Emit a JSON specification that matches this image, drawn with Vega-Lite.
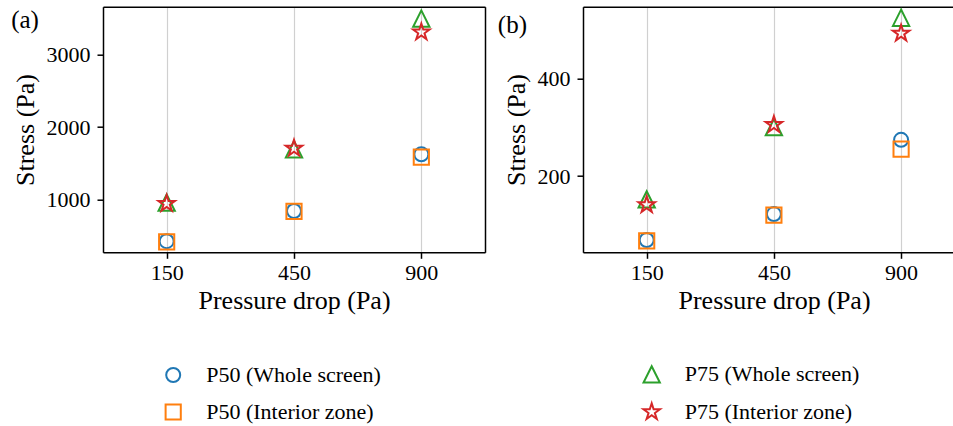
{
  "$schema": "https://vega.github.io/schema/vega-lite/v6.json",
  "autosize": {"type": "none"},
  "padding": {"left": 103, "top": 6.7, "right": 0, "bottom": 173.7},
  "width": 850,
  "height": 245.6,
  "background": "white",
  "data": {"values": [
    {"panel": "a", "dp": "150", "series": "P50 (Whole screen)", "stress": 420},
    {"panel": "a", "dp": "150", "series": "P50 (Interior zone)", "stress": 410},
    {"panel": "a", "dp": "150", "series": "P75 (Whole screen)", "stress": 955},
    {"panel": "a", "dp": "150", "series": "P75 (Interior zone)", "stress": 940},
    {"panel": "a", "dp": "450", "series": "P50 (Whole screen)", "stress": 838},
    {"panel": "a", "dp": "450", "series": "P50 (Interior zone)", "stress": 833},
    {"panel": "a", "dp": "450", "series": "P75 (Whole screen)", "stress": 1694},
    {"panel": "a", "dp": "450", "series": "P75 (Interior zone)", "stress": 1705},
    {"panel": "a", "dp": "900", "series": "P50 (Whole screen)", "stress": 1625},
    {"panel": "a", "dp": "900", "series": "P50 (Interior zone)", "stress": 1585},
    {"panel": "a", "dp": "900", "series": "P75 (Whole screen)", "stress": 3505},
    {"panel": "a", "dp": "900", "series": "P75 (Interior zone)", "stress": 3315},
    {"panel": "b", "dp": "150", "series": "P50 (Whole screen)", "stress": 69},
    {"panel": "b", "dp": "150", "series": "P50 (Interior zone)", "stress": 67},
    {"panel": "b", "dp": "150", "series": "P75 (Whole screen)", "stress": 152},
    {"panel": "b", "dp": "150", "series": "P75 (Interior zone)", "stress": 141},
    {"panel": "b", "dp": "450", "series": "P50 (Whole screen)", "stress": 122},
    {"panel": "b", "dp": "450", "series": "P50 (Interior zone)", "stress": 120},
    {"panel": "b", "dp": "450", "series": "P75 (Whole screen)", "stress": 300},
    {"panel": "b", "dp": "450", "series": "P75 (Interior zone)", "stress": 305},
    {"panel": "b", "dp": "900", "series": "P50 (Whole screen)", "stress": 274},
    {"panel": "b", "dp": "900", "series": "P50 (Interior zone)", "stress": 255},
    {"panel": "b", "dp": "900", "series": "P75 (Whole screen)", "stress": 524},
    {"panel": "b", "dp": "900", "series": "P75 (Interior zone)", "stress": 492}
  ]},
  "layer": [
    {
      "transform": [{"filter": "datum.panel == 'a'"}],
      "mark": {"type": "point", "filled": false, "strokeWidth": 2, "opacity": 1},
      "encoding": {
        "x": {"field": "dp", "type": "ordinal", "scale": {"type": "point", "range": [0, 382], "padding": 0.5},
              "axis": {"orient": "bottom", "title": "Pressure drop (Pa)", "titleX": 191, "labelAngle": 0, "grid": true, "tickSize": 6, "labelPadding": 4, "titlePadding": 4}},
        "y": {"field": "stress", "type": "quantitative", "scale": {"domain": [266, 3669], "nice": false, "zero": false},
              "axis": {"orient": "left", "values": [1000, 2000, 3000], "format": "d", "title": "Stress (Pa)", "grid": false, "tickSize": 6, "labelPadding": 7, "titlePadding": 8}},
        "color": {"field": "series", "type": "nominal", "scale": {"domain": ["P50 (Whole screen)", "P50 (Interior zone)", "P75 (Whole screen)", "P75 (Interior zone)"], "range": ["#1f77b4", "#ff7f0e", "#2ca02c", "#d62728"]}, "legend": {"title": null}},
        "shape": {"field": "series", "type": "nominal", "scale": {"domain": ["P50 (Whole screen)", "P50 (Interior zone)", "P75 (Whole screen)", "P75 (Interior zone)"], "range": ["circle", "square", "M0,-1L-1,1L1,1Z", "M0,-1L0.2245,-0.309L0.9511,-0.309L0.3633,0.118L0.5878,0.809L0,0.382L-0.5878,0.809L-0.3633,0.118L-0.9511,-0.309L-0.2245,-0.309Z"]}, "legend": {"title": null}},
        "size": {"field": "series", "type": "nominal", "scale": {"domain": ["P50 (Whole screen)", "P50 (Interior zone)", "P75 (Whole screen)", "P75 (Interior zone)"], "range": [196, 300, 289, 310]}, "legend": {"title": null}}
      }
    },
    {
      "transform": [{"filter": "datum.panel == 'b'"}],
      "mark": {"type": "point", "filled": false, "strokeWidth": 2, "opacity": 1},
      "encoding": {
        "x": {"field": "dp", "type": "ordinal", "scale": {"type": "point", "range": [480, 850], "padding": 0.4544, "align": 0.551},
              "axis": {"orient": "bottom", "title": "Pressure drop (Pa)", "titleX": 671, "labelAngle": 0, "grid": true, "tickSize": 6, "labelPadding": 4, "titlePadding": 4}},
        "y": {"field": "stress", "type": "quantitative", "scale": {"domain": [43.8, 546.6], "nice": false, "zero": false},
              "axis": {"orient": "left", "offset": -480, "values": [200, 400], "format": "d", "title": "Stress (Pa)", "grid": false, "tickSize": 6, "labelPadding": 7, "titlePadding": 8}},
        "color": {"field": "series", "type": "nominal", "legend": {"title": null}},
        "shape": {"field": "series", "type": "nominal", "legend": {"title": null}},
        "size": {"field": "series", "type": "nominal", "legend": {"title": null}}
      }
    },
    {
      "transform": [{"filter": "datum.panel == 'a'"}],
      "mark": {"type": "point", "opacity": 0},
      "encoding": {
        "x": {"field": "dp", "type": "ordinal", "scale": {"type": "point", "range": [0, 382], "padding": 0.5},
              "axis": {"orient": "top", "title": null, "labels": false, "ticks": false, "grid": false, "domain": true}},
        "y": {"field": "stress", "type": "quantitative", "scale": {"domain": [266, 3669], "nice": false, "zero": false},
              "axis": {"orient": "right", "offset": -468, "labels": false, "ticks": false, "grid": false, "domain": true,
                       "title": "(a)", "titleAngle": 0, "titleAlign": "left", "titleBaseline": "top", "titleX": -474.3, "titleY": 1, "titleFontSize": 25}}
      }
    },
    {
      "transform": [{"filter": "datum.panel == 'b'"}],
      "mark": {"type": "point", "opacity": 0},
      "encoding": {
        "x": {"field": "dp", "type": "ordinal", "scale": {"type": "point", "range": [480, 850], "padding": 0.4544, "align": 0.551},
              "axis": {"orient": "top", "title": null, "labels": false, "ticks": false, "grid": false, "domain": true}},
        "y": {"field": "stress", "type": "quantitative", "scale": {"domain": [43.8, 546.6], "nice": false, "zero": false},
              "axis": {"orient": "left", "offset": -480, "labels": false, "ticks": false, "grid": false, "domain": false,
                       "title": "(b)", "titleAngle": 0, "titleAlign": "left", "titleBaseline": "top", "titleX": -85.7, "titleY": 6, "titleFontSize": 25}}
      }
    }
  ],
  "resolve": {"scale": {"x": "independent", "y": "independent"}, "axis": {"x": "independent", "y": "independent"}},
  "config": {
    "view": {"stroke": null},
    "font": "Liberation Serif",
    "axis": {
      "labelFont": "Liberation Serif", "titleFont": "Liberation Serif",
      "labelFontSize": 22, "titleFontSize": 26, "titleFontWeight": "normal",
      "labelColor": "black", "titleColor": "black", "tickColor": "black", "domainColor": "black",
      "tickWidth": 1.5, "domainWidth": 1.5, "gridColor": "#d0d0d0", "gridWidth": 1.2
    },
    "legend": {
      "orient": "none", "legendX": 59.2, "legendY": 356.3, "columns": 2, "columnPadding": 257.5, "rowPadding": 12,
      "labelFont": "Liberation Serif", "labelFontSize": 22, "labelColor": "black", "labelLimit": 400, "labelOffset": 22,
      "symbolStrokeWidth": 2, "padding": 0
    }
  }
}
